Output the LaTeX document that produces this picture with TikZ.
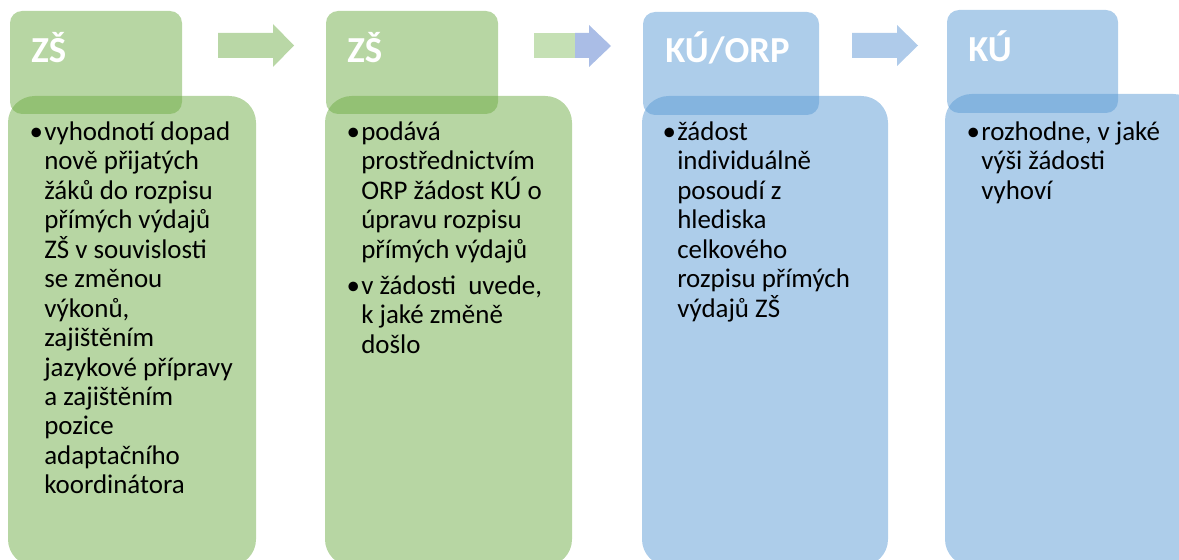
\documentclass[tikz,border=0pt]{standalone}
\usepackage{fontspec}
\setmainfont{Carlito}
\definecolor{grnfill}{RGB}{112,173,71}
\definecolor{blufill}{RGB}{91,155,213}
\definecolor{arrgrn}{RGB}{185,215,166}
\definecolor{arrgrnlt}{RGB}{197,224,180}
\definecolor{arrblu}{RGB}{170,189,230}
\definecolor{arrblult}{RGB}{175,203,234}
\tikzset{
  hdrbox/.style={fill opacity=0.5, rounded corners=9pt},
  bodybox/.style={fill opacity=0.5, rounded corners=20pt},
  hdrtext/.style={anchor=base west, inner sep=0pt, text=white, font=\fontsize{27.5}{32}\selectfont\bfseries},
  bodytext/.style={anchor=north west, inner sep=0pt, align=left, font=\fontsize{20.2}{22.1}\selectfont},
}
\newcommand{\blt}{\rule{0pt}{15pt}\makebox[0pt][r]{\textbullet\hspace{1pt}}}
\begin{document}
\begin{tikzpicture}[x=0.75pt,y=0.75pt,yscale=-1,xscale=1]
\useasboundingbox (0,0) rectangle (1179,560);
\clip (0,0) rectangle (1179,560);

%Shape: Header ZS [id:h1]
\fill [grnfill, hdrbox] (10,11) rectangle (182,114);
%Shape: Body ZS [id:b1]
\fill [grnfill, bodybox] (8,96) rectangle (256,566);
%Shape: Header ZS [id:h2]
\fill [grnfill, hdrbox] (326,11) rectangle (498,114);
%Shape: Body ZS [id:b2]
\fill [grnfill, bodybox] (325,96) rectangle (572,566);
%Shape: Header KU/ORP [id:h3]
\fill [blufill, hdrbox] (643,12) rectangle (819,115);
%Shape: Body KU/ORP [id:b3]
\fill [blufill, bodybox] (642,96) rectangle (888,566);
%Shape: Header KU [id:h4]
\fill [blufill, hdrbox] (947,10) rectangle (1118,113);
%Shape: Body KU [id:b4]
\fill [blufill, bodybox] (945,94) rectangle (1200,566);

%Shape: Right Arrow [id:a1]
\fill [arrgrn] (218,33) -- (273,33) -- (273,24) -- (294,45.5) -- (273,67) -- (273,58) -- (218,58) -- cycle ;
%Shape: Right Arrow [id:a2]
\fill [arrgrnlt] (534,33) -- (575,33) -- (575,58) -- (534,58) -- cycle ;
\fill [arrblu] (575,33) -- (589,33) -- (589,25) -- (611,46) -- (589,67) -- (589,58) -- (575,58) -- cycle ;
%Shape: Right Arrow [id:a3]
\fill [arrblult] (852,33) -- (897,33) -- (897,25) -- (918,45.5) -- (897,66) -- (897,58) -- (852,58) -- cycle ;

% Text Node
\node [hdrtext] (t1) at (31,63) {ZŠ};
% Text Node
\node [hdrtext] (t2) at (347,63) {ZŠ};
% Text Node
\node [hdrtext] (t3) at (665,63) {KÚ/ORP};
% Text Node
\node [hdrtext] (t4) at (968,62) {KÚ};

% Text Node
\node [bodytext] (d1) at (44,120) {\blt vyhodnotí dopad\\ nově přijatých\\ žáků do rozpisu\\ přímých výdajů\\ ZŠ v souvislosti\\ se změnou\\ výkonů,\\ zajištěním\\ jazykové přípravy\\ a zajištěním\\ pozice\\ adaptačního\\ koordinátora};
% Text Node
\node [bodytext] (d2) at (361,120) {\blt podává\\ prostřednictvím\\ ORP žádost KÚ o\\ úpravu rozpisu\\ přímých výdajů\\[5pt] \blt v žádosti\ \ uvede,\\ k jaké změně\\ došlo};
% Text Node
\node [bodytext] (d3) at (677,120) {\blt žádost\\ individuálně\\ posoudí z\\ hlediska\\ celkového\\ rozpisu přímých\\ výdajů ZŠ};
% Text Node
\node [bodytext] (d4) at (981,120) {\blt rozhodne, v jaké\\ výši žádosti\\ vyhoví};
\end{tikzpicture}
\end{document}
